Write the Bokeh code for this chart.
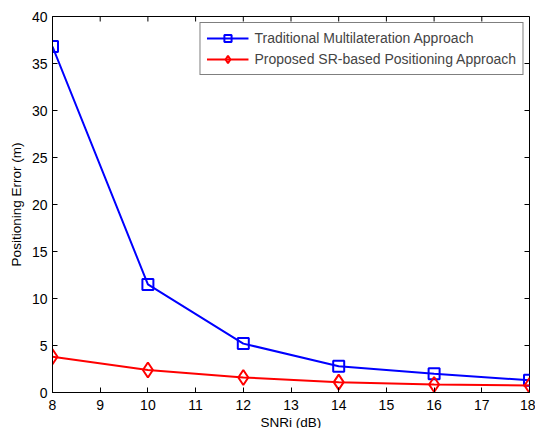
import math
from bokeh.plotting import figure
from bokeh.models import Range1d, Legend, LegendItem, FixedTicker
from bokeh.embed import file_html
from bokeh.resources import INLINE

snr = [8, 10, 12, 14, 16, 18]
traditional = [36.8, 11.5, 5.2, 2.8, 2.0, 1.3]
proposed = [3.8, 2.4, 1.6, 1.1, 0.85, 0.75]
x_ticks = [8, 9, 10, 11, 12, 13, 14, 15, 16, 17, 18]
y_ticks = [0, 5, 10, 15, 20, 25, 30, 35, 40]
x_min, x_max = 8, 18
y_min, y_max = 0, 40

FONT = "Liberation Sans"

p = figure(output_backend="svg", toolbar_location=None,
           frame_width=477, frame_height=376,
           min_border_left=52, min_border_top=16, min_border_right=6, min_border_bottom=34,
           x_range=Range1d(x_min, x_max), y_range=Range1d(y_min, y_max),
           background_fill_color="white", border_fill_color="white")
p.grid.visible = False
p.outline_line_color = "black"
p.outline_line_width = 1

for ax in (p.xaxis[0], p.yaxis[0]):
    ax.major_tick_in = 5
    ax.major_tick_out = 0
    ax.minor_tick_line_color = None
    ax.axis_line_color = "black"
    ax.major_tick_line_color = "black"
    ax.major_label_text_font = FONT
    ax.major_label_text_font_size = "14px"
    ax.major_label_text_color = "black"
    ax.axis_label_text_font = FONT
    ax.axis_label_text_font_size = "13.5px"
    ax.axis_label_text_font_style = "normal"
    ax.axis_label_text_color = "black"

p.xaxis.ticker = FixedTicker(ticks=x_ticks)
p.yaxis.ticker = FixedTicker(ticks=y_ticks)
p.xaxis.axis_label = "SNRi (dB)"
p.yaxis.axis_label = "Positioning Error (m)"
p.xaxis.major_label_standoff = 7
p.xaxis.axis_label_standoff = 2
p.yaxis.major_label_standoff = 5
p.yaxis.axis_label_standoff = 5

# inward ticks on the top and right edges of the box
p.ray(x=x_ticks, y=[y_max] * len(x_ticks), length=5, length_units="screen",
      angle=-math.pi / 2, line_color="black", line_width=1)
p.ray(x=[x_max] * len(y_ticks), y=y_ticks, length=5, length_units="screen",
      angle=math.pi, line_color="black", line_width=1)

l1 = p.line(snr, traditional, line_color="blue", line_width=2)
m1 = p.scatter(snr, traditional, marker="square", size=11, line_color="blue",
               fill_color=None, line_width=2)
l2 = p.line(snr, proposed, line_color="red", line_width=2)
m2 = p.scatter(snr, proposed, marker="diamond", size=15, line_color="red",
               fill_color=None, line_width=2)

legend = Legend(items=[
    LegendItem(label="Traditional Multilateration Approach", renderers=[l1, m1]),
    LegendItem(label="Proposed SR-based Positioning Approach", renderers=[l2, m2]),
], location="top_right")
legend.border_line_color = "black"
legend.border_line_width = 1
legend.label_text_font = FONT
legend.label_text_font_size = "14px"
legend.glyph_width = 42
legend.glyph_height = 18
legend.label_height = 18
legend.spacing = 3
legend.padding = 6
legend.margin = 6
legend.label_standoff = 6
legend.background_fill_alpha = 1
p.add_layout(legend, "center")

open("out.html", "w").write(file_html(p, INLINE))
